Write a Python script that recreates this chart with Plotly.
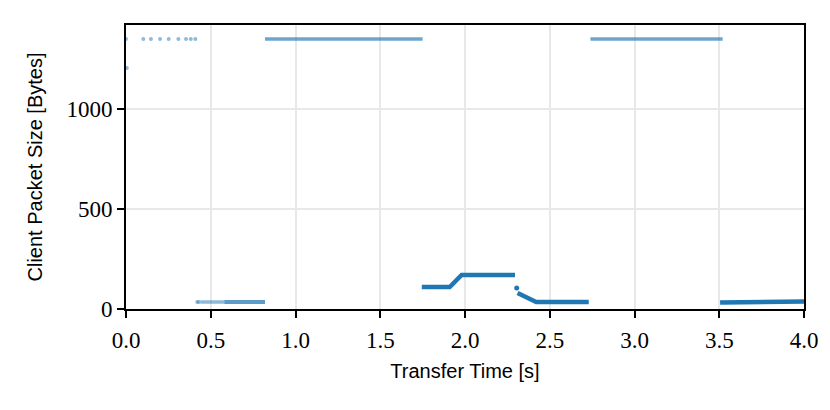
import plotly.graph_objects as go

# ---- data ----
# sparse individual packets (seconds, bytes)
sparse_t = [0.0, 0.005, 0.102, 0.147, 0.201, 0.252, 0.309, 0.354, 0.382, 0.409, 0.42, 0.43]
sparse_size = [1350, 1205, 1350, 1350, 1350, 1350, 1350, 1350, 1350, 1350, 35, 35]

# dense runs of packets at full MTU (drawn as continuous streaks)
big1_t = [0.82, 1.75]
big1_size = [1350, 1350]
big2_t = [2.74, 3.52]
big2_size = [1350, 1350]

# dense runs of small packets
small1a_t = [0.44, 0.58]
small1a_size = [35, 35]
small1b_t = [0.58, 0.82]
small1b_size = [35, 35]
small2_t = [1.745, 1.91, 1.98, 2.295]
small2_size = [110, 110, 170, 170]
small3_t = [2.305]
small3_size = [105]
small4_t = [2.31, 2.42, 2.73]
small4_size = [80, 35, 35]
small5_t = [3.505, 3.80, 3.80, 4.0]
small5_size = [33, 33, 38, 38]

x_ticks = [0.0, 0.5, 1.0, 1.5, 2.0, 2.5, 3.0, 3.5, 4.0]
x_tick_labels = ["0.0", "0.5", "1.0", "1.5", "2.0", "2.5", "3.0", "3.5", "4.0"]
y_ticks = [0, 500, 1000]
y_tick_labels = ["0", "500", "1000"]

BLUE = "#1f77b4"

fig = go.Figure()

fig.add_trace(go.Scatter(x=sparse_t, y=sparse_size, mode="markers",
                         marker=dict(color=BLUE, size=4, opacity=0.5, line=dict(width=0)),
                         hoverinfo="skip", showlegend=False))

for t, s, w, op in [(big1_t, big1_size, 3.5, 0.65), (big2_t, big2_size, 3.5, 0.65),
                    (small1a_t, small1a_size, 3.5, 0.5), (small1b_t, small1b_size, 4, 0.72)]:
    fig.add_trace(go.Scatter(x=t, y=s, mode="lines",
                             line=dict(color=BLUE, width=w), opacity=op,
                             hoverinfo="skip", showlegend=False))

for t, s in [(small2_t, small2_size), (small4_t, small4_size), (small5_t, small5_size)]:
    fig.add_trace(go.Scatter(x=t, y=s, mode="lines",
                             line=dict(color=BLUE, width=4.5),
                             hoverinfo="skip", showlegend=False))

fig.add_trace(go.Scatter(x=small3_t, y=small3_size, mode="markers",
                         marker=dict(color=BLUE, size=5, line=dict(width=0)),
                         hoverinfo="skip", showlegend=False))

tick_font = dict(family="Liberation Serif, DejaVu Serif, serif", size=23, color="black")
title_font = dict(family="Liberation Sans, Arial, sans-serif", size=20, color="black")

fig.update_layout(
    width=822, height=402,
    margin=dict(l=118, r=26, t=17, b=101),
    paper_bgcolor="white", plot_bgcolor="white",
)
fig.update_xaxes(
    range=[0, 4], tickvals=x_ticks, ticktext=x_tick_labels,
    showgrid=True, gridcolor="#e8e8e8", gridwidth=1.5,
    showline=True, linecolor="black", linewidth=2, mirror=True,
    ticks="outside", ticklen=7, tickwidth=2, tickcolor="black",
    tickfont=tick_font, zeroline=False, ticklabelstandoff=2,
    title=dict(text="Transfer Time [s]", font=title_font, standoff=12),
)
fig.update_yaxes(
    range=[0, 1420], tickvals=y_ticks, ticktext=y_tick_labels,
    showgrid=True, gridcolor="#e8e8e8", gridwidth=1.5,
    showline=True, linecolor="black", linewidth=2, mirror=True,
    ticks="outside", ticklen=7, tickwidth=2, tickcolor="black",
    tickfont=tick_font, zeroline=False,
    title=dict(text="Client Packet Size [Bytes]", font=title_font, standoff=18),
)

fig.write_html("out.html")
